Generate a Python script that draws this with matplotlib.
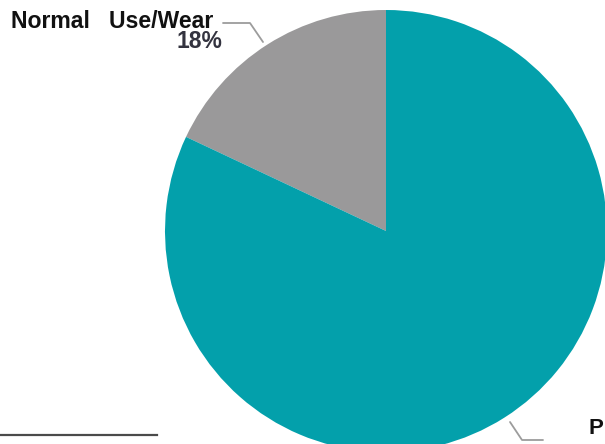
import matplotlib
matplotlib.use("Agg")
import matplotlib.pyplot as plt

# Breakdown of causes
categories = ["Normal   Use/Wear", "P"]
shares = [18, 82]
colors = ["#9a999a", "#03a0ab"]

W, H = 605, 444
fig = plt.figure(figsize=(W / 100, H / 100), dpi=100)
ax = fig.add_axes([0, 0, 1, 1])

cx, cy, r = 386, H - 231, 221
ax.pie(shares, colors=colors, startangle=90, counterclock=True,
       center=(cx, cy), radius=r, wedgeprops=dict(linewidth=0))

ax.set_xlim(0, W)
ax.set_ylim(0, H)
ax.set_aspect("auto")
ax.axis("off")

font = dict(family=["Liberation Sans", "DejaVu Sans"], weight="bold")
lead = dict(color="#9c9c9c", lw=1.3, solid_capstyle="round")

# Label for the smaller slice, with leader line
ax.text(11, H - 28, categories[0], ha="left", va="baseline",
        fontsize=16.6, color="#111111", **font)
ax.text(222, H - 48, f"{shares[0]}%", ha="right", va="baseline",
        fontsize=16.5, color="#33333f", **font)
ax.plot([223, 250, 263], [H - 23, H - 23, H - 42], **lead)

# Label for the larger slice, at the right edge
ax.plot([510, 522, 543], [H - 422, H - 440, H - 440], **lead)
ax.text(588, H - 434, categories[1], ha="left", va="baseline",
        fontsize=16, color="#111111", **font)

# Rule along the bottom left
ax.plot([0, 157], [H - 435, H - 435], color="#4a4a4a", lw=1.6)

fig.savefig("out.png", dpi=100)
